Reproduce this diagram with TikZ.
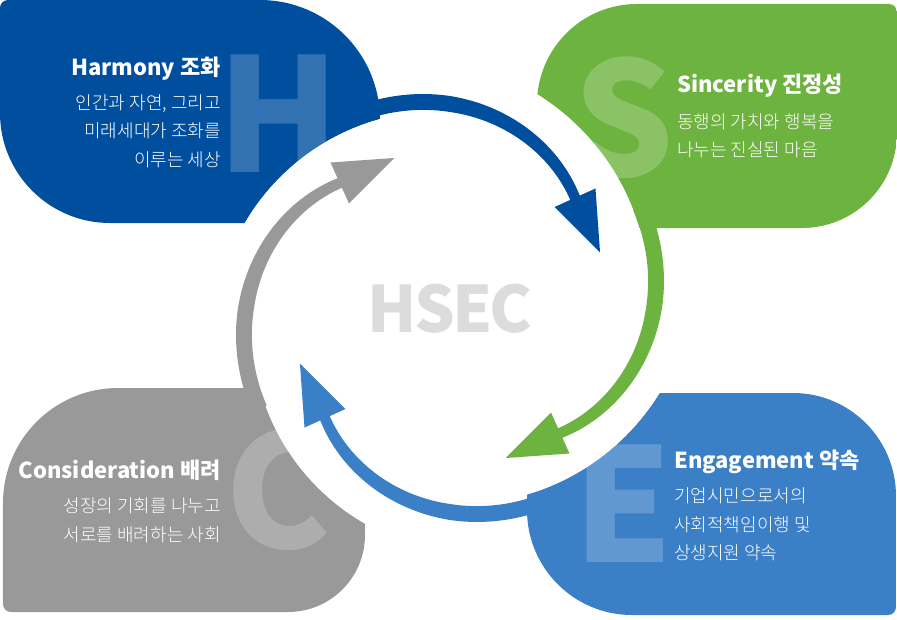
\documentclass[tikz,border=0pt]{standalone}
\usepackage{fontspec}
\newfontfamily\kr{Noto Sans CJK KR}
\IfFontExistsTF{Noto Sans CJK KR Light}
  {\newfontfamily\krl{Noto Sans CJK KR Light}}
  {\newfontfamily\krl{Noto Sans CJK KR}}
\definecolor{hblue}{HTML}{004F9F}
\definecolor{sgreen}{HTML}{6DB33F}
\definecolor{eblue}{HTML}{3B7FC7}
\definecolor{cgray}{HTML}{999999}
\definecolor{hsecgray}{HTML}{DCDCDC}
\begin{document}
\begin{tikzpicture}[x=1pt,y=1pt,
  declare function={rc(\t)=166.7+0.9925*(\t-41.4)-0.00463*(\t-41.4)*(\t-41.4);
                    wd(\t)=(\t>90)*16+(\t<=90)*(11+5*(\t-41.4)/48.6);},
  titletext/.style={text=white,font=\kr\bfseries\fontsize{22}{26}\selectfont,inner sep=0pt},
  bodytext/.style={text=white,font=\krl\fontsize{18}{22}\selectfont,inner sep=0pt},
  wmark/.style={text=white,text opacity=0.2,font=\kr\bfseries\fontsize{158}{158}\selectfont,inner sep=0pt,anchor=base},
  boxH/.style={insert path={(-442,308) -- (-190,308) arc[start angle=90,end angle=0,radius=120] -- (-70,85) -- (-340,85) arc[start angle=270,end angle=180,radius=110] -- (-450,300) arc[start angle=180,end angle=90,radius=8] -- cycle}},
  boxS/.style={insert path={(187,304) -- (439,304) arc[start angle=90,end angle=0,radius=8] -- (447,175) arc[start angle=0,end angle=-90,radius=95] -- (87,80) -- (87,204) arc[start angle=180,end angle=90,radius=100] -- cycle}},
  boxE/.style={insert path={(77,-85) -- (343,-85) arc[start angle=90,end angle=0,radius=103] -- (446,-299) arc[start angle=0,end angle=-90,radius=8] -- (182,-307) arc[start angle=-90,end angle=-180,radius=105] -- cycle}},
  boxC/.style={insert path={(-332,-80) -- (-85,-80) -- (-85,-227) arc[start angle=0,end angle=-90,radius=77] -- (-439,-304) arc[start angle=-90,end angle=-180,radius=8] -- (-447,-195) arc[start angle=180,end angle=90,radius=115] -- cycle}},
  bigrect/.style={insert path={(-460,-320) rectangle (460,320)}}
]
\useasboundingbox (-450,-311) rectangle (447,308);

% boxes with watermark letters, cut by the white centre
\begin{scope}
  \clip[boxH];
  \fill[hblue,even odd rule,bigrect] (-10,-29) circle[radius=226];
  \node[wmark] (wH) at (-171,136) {H};
  \fill[white] (-10,-29) circle[radius=226];
\end{scope}

\begin{scope}
  \clip[boxS];
  \fill[sgreen,even odd rule,bigrect] (-37,13) circle[radius=236];
  \node[wmark] (wS) at (174,132) {S};
  \fill[white] (-37,13) circle[radius=236];
\end{scope}

\begin{scope}
  \clip[boxE];
  \fill[eblue,even odd rule,bigrect] (11,37) circle[radius=233];
  \node[wmark] (wE) at (173,-254) {E};
  \fill[white] (11,37) circle[radius=233];
\end{scope}

\begin{scope}
  \clip[boxC];
  \fill[cgray,even odd rule,bigrect] (26,-21) circle[radius=224];
  \node[wmark] (wC) at (-172,-240) {C};
  \fill[white] (26,-21) circle[radius=224];
\end{scope}

% spiral arrows
\foreach \rot/\col in {0/hblue,-90/sgreen,-180/eblue,-270/cgray}{
  \begin{scope}[rotate=\rot]
    \fill[\col] plot[domain=118:38,samples=60,variable=\t] ({\t}:{rc(\t)+wd(\t)/2})
       -- plot[domain=38:118,samples=60,variable=\t] ({\t}:{rc(\t)-wd(\t)/2}) -- cycle;
    \fill[\col] (44:145.4) -- (20.3:160) -- (39.4:188.3) -- cycle;
  \end{scope}
}

% centre label
\node[text=hsecgray,font=\kr\bfseries\fontsize{64}{64}\selectfont,inner sep=0pt] (hsec) at (0,-1) {H\kern-3pt S\kern-3pt E\kern-3pt C};

% texts
\node[titletext,anchor=base east] (tH) at (-229,233) {Harmony 조화};
\node[bodytext,anchor=base east] (bH1) at (-229,199) {인간과 자연, 그리고};
\node[bodytext,anchor=base east] (bH2) at (-229,171) {미래세대가 조화를};
\node[bodytext,anchor=base east] (bH3) at (-229,142) {이루는 세상};

\node[titletext,anchor=base west] (tS) at (227,215) {Sincerity 진정성};
\node[bodytext,anchor=base west] (bS1) at (227,179) {동행의 가치와 행복을};
\node[bodytext,anchor=base west] (bS2) at (227,152) {나누는 진실된 마음};

\node[titletext,anchor=base west] (tE) at (224,-160) {Engagement 약속};
\node[bodytext,anchor=base west] (bE1) at (224,-194) {기업시민으로서의};
\node[bodytext,anchor=base west] (bE2) at (224,-223) {사회적책임이행 및};
\node[bodytext,anchor=base west] (bE3) at (224,-251) {상생지원 약속};

\node[titletext,anchor=base east] (tC) at (-229,-170) {Consideration 배려};
\node[bodytext,anchor=base east] (bC1) at (-229,-204) {성장의 기회를 나누고};
\node[bodytext,anchor=base east] (bC2) at (-229,-233) {서로를 배려하는 사회};
\end{tikzpicture}
\end{document}
